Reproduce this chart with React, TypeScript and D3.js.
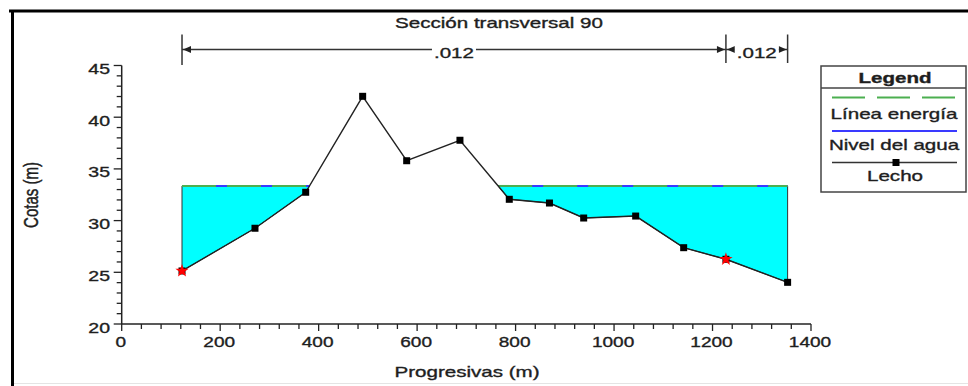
import React from "react";
import * as d3 from "d3";

// cross-section survey (Progresiva, Cota)
const stations = [122.5, 270.7, 373.7, 489.4, 578.8, 687, 787.2, 868.8, 938.3, 1043.9, 1141.4, 1227.2, 1352.5];
const elevations = [25.13, 29.26, 32.74, 42.02, 35.79, 37.77, 32.06, 31.7, 30.25, 30.44, 27.38, 26.26, 24.03];
const bankStations = [122.5, 1227.2];
const waterLevel = 33.35;
const manningValues = [".012", ".012"];
const xTicks = [0, 200, 400, 600, 800, 1000, 1200, 1400];
const yTicks = [20, 25, 30, 35, 40, 45];

const W = 968;
const H = 386;
const SX = 1.37; // the source screenshot is stretched sideways
const FONT = "'Liberation Sans', Arial, sans-serif";
const INK = "#1e1e1e";

const x = d3.scaleLinear().domain([0, 1400]).range([121.7, 811]);
const y = d3.scaleLinear().domain([20, 45]).range([324, 65.5]);

type Pt = [number, number];

function wetPolygons(xs: number[], zs: number[], w: number): Pt[][] {
  const polys: Pt[][] = [];
  let cur: Pt[] | null = null;
  for (let i = 0; i < xs.length; i++) {
    const wet = zs[i] < w;
    if (i > 0) {
      const prevWet = zs[i - 1] < w;
      if (prevWet !== wet) {
        const t = (w - zs[i - 1]) / (zs[i] - zs[i - 1]);
        const xi = xs[i - 1] + t * (xs[i] - xs[i - 1]);
        if (cur) {
          cur.push([xi, w]);
          polys.push(cur);
          cur = null;
        } else cur = [[xi, w]];
      }
    }
    if (wet) {
      if (!cur) cur = [[xs[i], w]];
      cur.push([xs[i], zs[i]]);
    }
  }
  if (cur) {
    cur.push([xs[xs.length - 1], w]);
    polys.push(cur);
  }
  return polys;
}

function T({ x, y, children, anchor = "middle", size = 15, weight = "normal", sx = SX, rotate = false }: any) {
  const tf = rotate
    ? `translate(${x},${y}) rotate(-90) scale(1,${sx})`
    : `translate(${x},${y}) scale(${sx},1)`;
  return (
    <text
      transform={tf}
      textAnchor={anchor}
      fontSize={size}
      fontWeight={weight}
      fontFamily={FONT}
      fill={INK}
      stroke={INK}
      strokeWidth={0.35}
    >
      {children}
    </text>
  );
}

function Arrow({ at, dir, yy }: { at: number; dir: number; yy: number }) {
  // dir -1 points left, +1 points right
  const p = d3.path();
  p.moveTo(at, yy);
  p.lineTo(at - dir * 8, yy - 3.5);
  p.lineTo(at - dir * 8, yy + 3.5);
  p.closePath();
  return <path d={p.toString()} fill="#222" />;
}

export default function App() {
  const line = d3.line<Pt>().x((d) => x(d[0])).y((d) => y(d[1]));
  const bed: Pt[] = stations.map((s, i) => [s, elevations[i]]);
  const polys = wetPolygons(stations, elevations, waterLevel);

  const xMinor = d3.range(0, 1401, 40);
  const yMinor = d3.range(20, 45.01, 1);

  const dimY = 49.5;
  const dimEdges = [bankStations[0], bankStations[1], stations[stations.length - 1]];

  const lx0 = 832;
  const lx1 = 957;

  return (
    <svg width={W} height={H} style={{ position: "absolute", left: 0, top: 0, background: "#fff" }}>
      {/* frame */}
      <path d={`M9,11H${W}`} stroke="#000" strokeWidth={3} />
      <path d="M12.5,10V386" stroke="#000" strokeWidth={3} />
      <path d={`M14,383.5H${W}`} stroke="#e4e4e4" strokeWidth={1} />

      <T x={499} y={27.5}>Sección transversal 90</T>

      {/* Manning n dimension line */}
      {dimEdges.map((s, i) => (
        <line key={"dt" + i} x1={x(s)} x2={x(s)} y1={34.5} y2={i === 0 ? 65 : 63} stroke="#333" strokeWidth={1.5} />
      ))}
      {manningValues.map((n, i) => {
        const a = x(dimEdges[i]);
        const b = x(dimEdges[i + 1]);
        const m = (a + b) / 2;
        return (
          <g key={"dm" + i}>
            <line x1={a} x2={b} y1={dimY} y2={dimY} stroke="#333" strokeWidth={1.3} />
            <Arrow at={a + 1} dir={-1} yy={dimY} />
            <Arrow at={b - 1} dir={1} yy={dimY} />
            <rect x={m - 22} y={dimY - 6} width={44} height={12} fill="#fff" />
            <T x={m} y={57.5}>{n}</T>
          </g>
        );
      })}

      {/* water */}
      {polys.map((p, i) => (
        <path key={"wf" + i} d={line(p) + "Z"} fill="#00ffff" stroke="#333" strokeWidth={1} />
      ))}
      {polys.map((p, i) => {
        const seg: Pt[] = [[p[0][0], waterLevel], [p[p.length - 1][0], waterLevel]];
        return (
          <g key={"wl" + i}>
            <path d={line(seg)!} stroke="#3a3aff" strokeWidth={2} fill="none" />
            <path d={line(seg)!} stroke="#4caf50" strokeWidth={2} strokeDasharray="34 11" fill="none" />
          </g>
        );
      })}

      {/* ground */}
      <path d={line(bed)!} fill="none" stroke="#222" strokeWidth={1.4} />
      {bed.map((d, i) => (
        <rect key={"m" + i} x={x(d[0]) - 3.5} y={y(d[1]) - 3.5} width={7} height={7} fill="#000" />
      ))}
      {bankStations.map((s, i) => {
        const j = stations.indexOf(s);
        return (
          <path
            key={"b" + i}
            d={d3.symbol(d3.symbolStar, 55)()!}
            transform={`translate(${x(s)},${y(elevations[j])})`}
            fill="#ff0000"
          />
        );
      })}

      {/* axes */}
      <line x1={x(0)} x2={x(1400)} y1={y(20)} y2={y(20)} stroke="#222" strokeWidth={1.5} />
      <line x1={x(0)} x2={x(0)} y1={y(20)} y2={y(45)} stroke="#222" strokeWidth={1.5} />
      {xMinor.map((t) => (
        <line key={"xm" + t} x1={x(t)} x2={x(t)} y1={y(20)} y2={y(20) + (t % 200 === 0 ? 7 : 5)} stroke="#222" strokeWidth={1.3} />
      ))}
      {yMinor.map((t) => (
        <line key={"ym" + t} x1={x(0)} x2={x(0) - (t % 5 === 0 ? 8 : 5)} y1={y(t)} y2={y(t)} stroke="#222" strokeWidth={1.3} />
      ))}
      {xTicks.map((t) => (
        <T key={"xt" + t} x={x(t) - 1} y={347} sx={1.27}>{t}</T>
      ))}
      {yTicks.map((t) => (
        <T key={"yt" + t} x={110} y={y(t) + 8.5} anchor="end" sx={1.3}>{t}</T>
      ))}
      <T x={467} y={377}>Progresivas (m)</T>
      <T x={38} y={195} rotate>Cotas (m)</T>

      {/* legend */}
      <rect x={821} y={66} width={145} height={126} fill="#fff" stroke="#444" strokeWidth={1.5} />
      <line x1={821} x2={966} y1={88} y2={88} stroke="#444" strokeWidth={1.5} />
      <T x={895} y={83} weight="bold">Legend</T>
      <line x1={lx0} x2={lx1} y1={97.5} y2={97.5} stroke="#4caf50" strokeWidth={2} strokeDasharray="33 12" />
      <T x={894} y={119}>Línea energía</T>
      <line x1={lx0} x2={lx1} y1={131} y2={131} stroke="#3a3aff" strokeWidth={2} />
      <T x={894} y={150}>Nivel del agua</T>
      <line x1={lx0} x2={lx1} y1={162.5} y2={162.5} stroke="#333" strokeWidth={1.4} />
      <rect x={892.5} y={159} width={7} height={7} fill="#000" />
      <T x={895} y={181}>Lecho</T>
    </svg>
  );
}
